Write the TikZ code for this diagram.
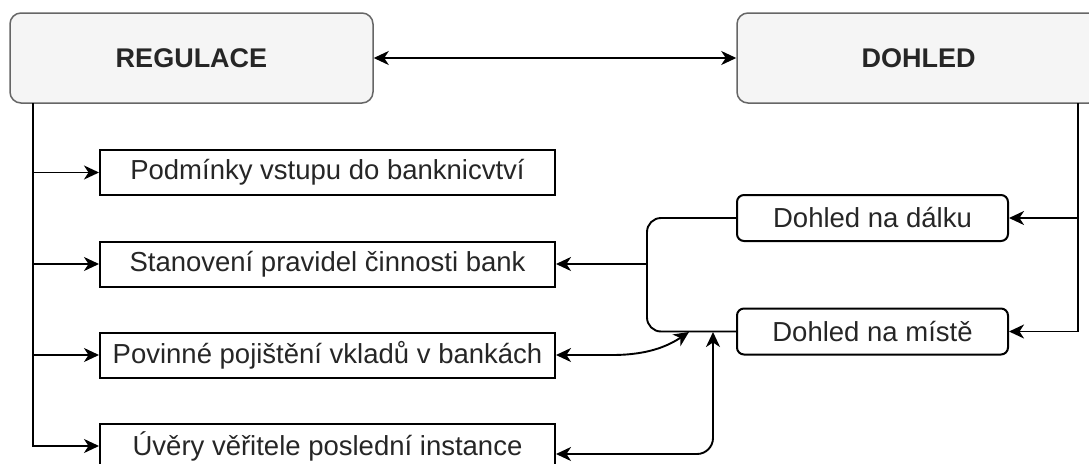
\documentclass[tikz,border=0pt]{standalone}
\usepackage{fontspec}
\setmainfont{Liberation Sans}
\usetikzlibrary{arrows.meta}
\definecolor{topfill}{HTML}{F5F5F5}
\definecolor{topline}{HTML}{666666}
\definecolor{txt}{HTML}{262626}
\begin{document}
\begin{tikzpicture}[x=1pt,y=-1pt,line width=1.9pt,
  >={Stealth[length=15pt,width=14pt,inset=4.5pt]},
  topbox/.style={draw=topline,line width=1.5pt,fill=topfill,rounded corners=11pt,
    minimum width=363pt,minimum height=90pt,inner sep=0pt,
    font=\bfseries\fontsize{27}{32}\selectfont,text=txt},
  leftbox/.style={draw=black,line width=2pt,fill=white,minimum width=455pt,minimum height=45pt,inner sep=0pt,
    font=\fontsize{27.5}{32}\selectfont,text=txt},
  rightbox/.style={draw=black,line width=2pt,fill=white,rounded corners=7pt,minimum width=271pt,minimum height=46pt,
    inner sep=0pt,font=\fontsize{27.5}{32}\selectfont,text=txt},
  conn/.style={draw=black,line width=1.9pt}]
\useasboundingbox (0,0) rectangle (1089,463);
\begin{scope}
\clip (0,0) rectangle (1089,463);
\node[topbox] (reg) at (191.5,58) {REGULACE};
\node[topbox] (doh) at (918.5,58) {DOHLED};
\node[leftbox] (b1) at (327.5,172.5) {Podmínky vstupu do banknicvtví};
\node[leftbox] (b2) at (327.5,264) {Stanovení pravidel činnosti bank};
\node[leftbox] (b3) at (327.5,355) {Povinné pojištění vkladů v bankách};
\node[leftbox] (b4) at (327.5,446) {Úvěry věřitele poslední instance};
\node[rightbox] (d1) at (872.5,218) {Dohled na dálku};
\node[rightbox] (d2) at (872.5,331.5) {Dohled na místě};

\draw[conn,<->] (reg.east) -- (doh.west);

\coordinate (tl) at (33,103);
\draw[conn,->] (tl) |- (b1.west);
\draw[conn,->] (tl) |- (b2.west);
\draw[conn,->] (tl) |- (b3.west);
\draw[conn,->] (tl) |- (b4.west);

\coordinate (tr) at (1078,103);
\draw[conn,->] (tr) |- (d1.east);
\draw[conn,->] (tr) |- (d2.east);

\coordinate (jn) at (647,264);
\draw[conn,rounded corners=14pt] (d1.west) -| (jn) |- (d2.west);
\draw[conn,->] (jn) -- (b2.east);

\coordinate (e3) at (689,332);
\draw[conn,<->] (b3.east) -- (612,355) .. controls (648,355) and (668,346) .. (e3);

\coordinate (e4) at (713,332);
\draw[conn,<->,rounded corners=16pt] ([yshift=-8pt]b4.east) -| (e4);
\end{scope}
\end{tikzpicture}
\end{document}
